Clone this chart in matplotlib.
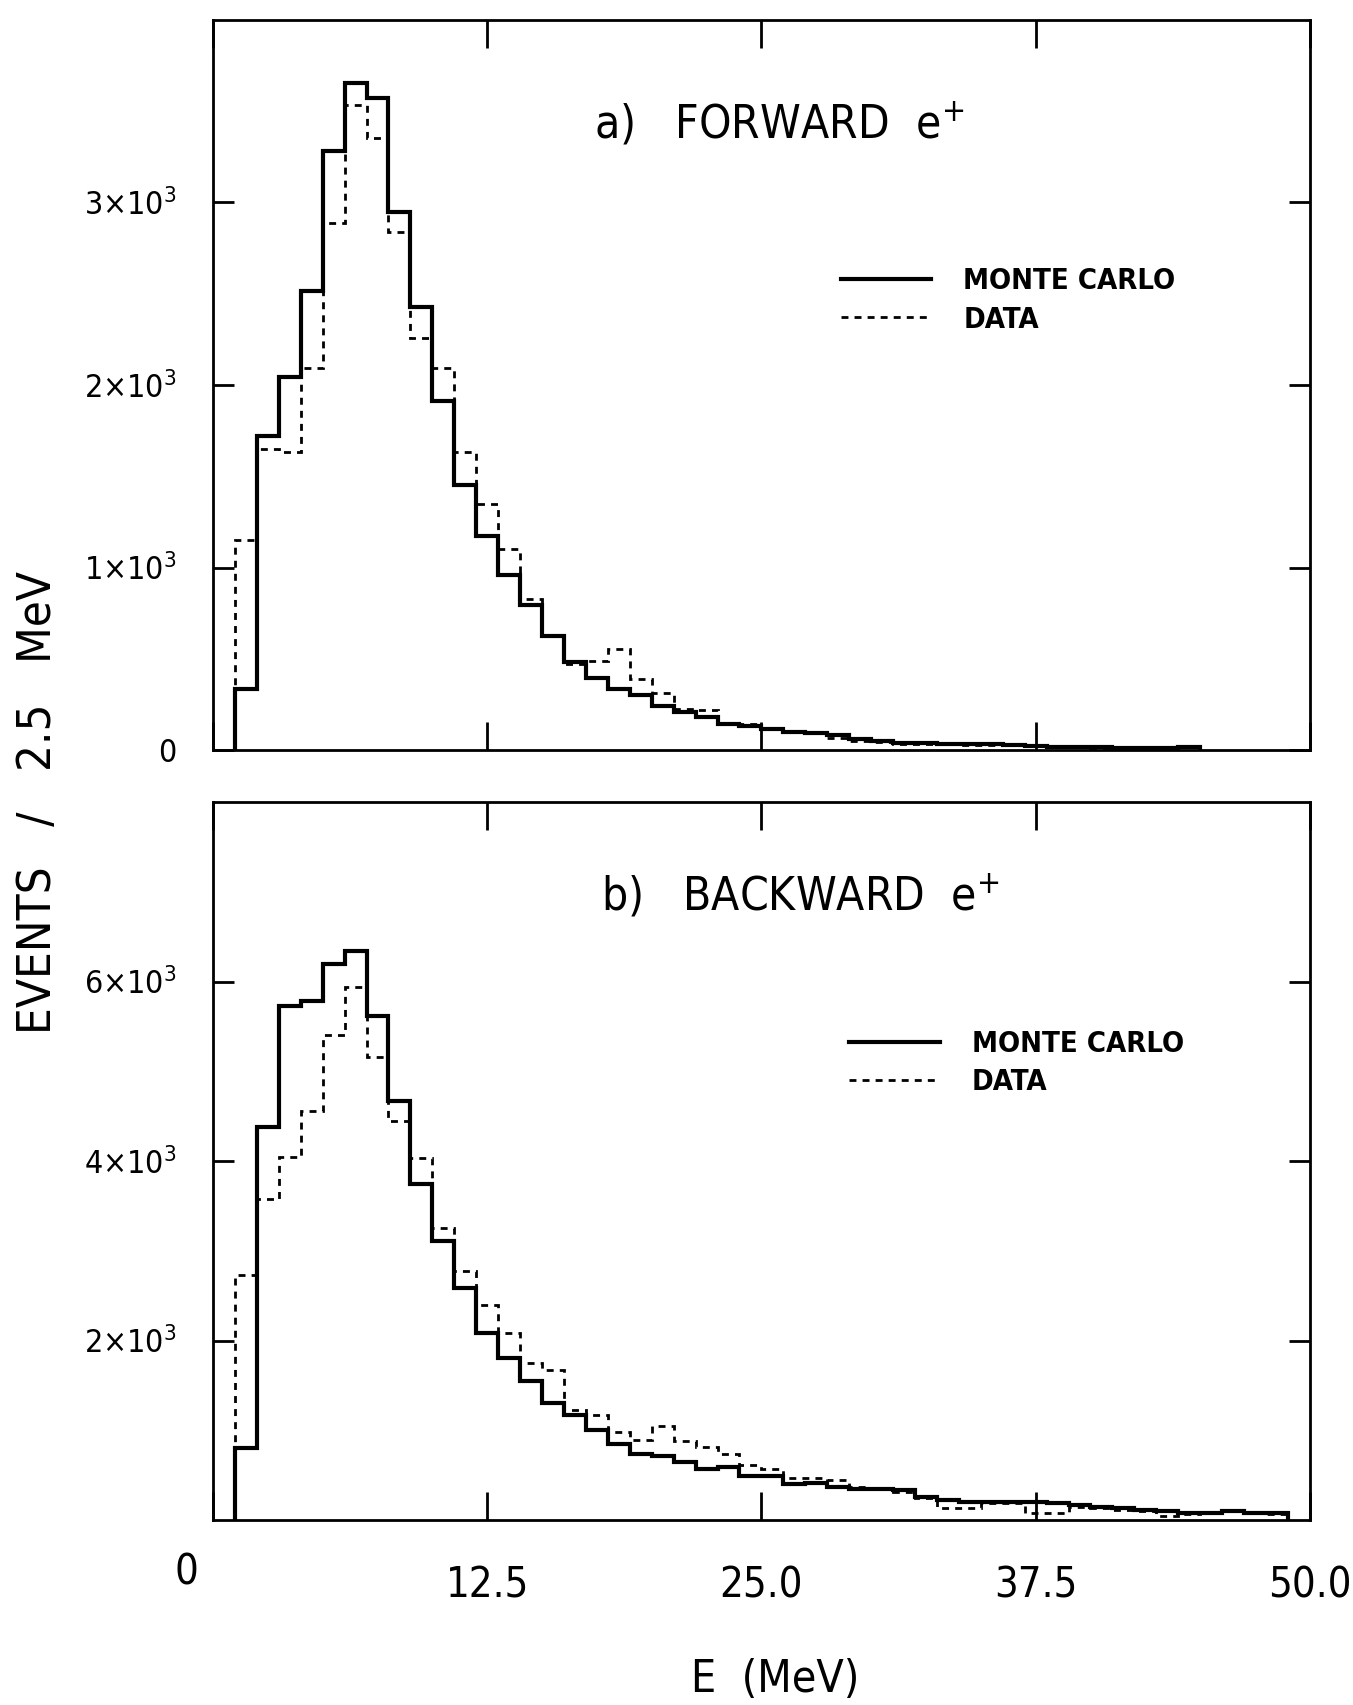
import numpy as np
import matplotlib
matplotlib.use("Agg")
import matplotlib.pyplot as plt
from matplotlib.lines import Line2D

plt.rcParams['font.family'] = ['DejaVu Sans']
plt.rcParams['font.stretch'] = 'condensed'

# energy bins, 1 MeV wide, starting at 1 MeV
edges_fwd = np.arange(1, 46)
edges_bwd = np.arange(1, 50)

# a) forward e+  (events per bin)
mc_fwd = [335, 1720, 2045, 2515, 3280, 3655, 3570, 2950, 2425, 1915,
          1450, 1170, 960, 792, 625, 482, 397, 333, 300, 241,
          208, 183, 144, 132, 113, 99, 91, 80, 60, 50,
          40, 37, 33, 33, 33, 30, 20, 18, 18, 15,
          12, 12, 12, 15]
data_fwd = [1150, 1650, 1635, 2095, 2885, 3535, 3355, 2840, 2255, 2095,
            1635, 1350, 1100, 828, 625, 470, 488, 556, 391, 314,
            223, 218, 150, 141, 122, 104, 95, 68, 50, 45,
            35, 35, 38, 30, 30, 28, 22, 18, 15, 12,
            12, 10, 12, 15]

# b) backward e+
mc_bwd = [800, 4380, 5725, 5784, 6191, 6338, 5618, 4672, 3740, 3113,
          2588, 2088, 1804, 1549, 1300, 1175, 1000, 849, 738, 712,
          646, 572, 590, 487, 487, 406, 417, 369, 350, 343,
          330, 260, 225, 205, 203, 203, 200, 185, 166, 150,
          130, 115, 103, 80, 80, 100, 75, 75]
data_bwd = [2735, 3578, 4044, 4559, 5407, 5936, 5162, 4451, 4034, 3250,
            2775, 2392, 2088, 1755, 1667, 1229, 1165, 985, 886, 1052,
            878, 812, 738, 616, 565, 472, 472, 443, 369, 345,
            310, 250, 130, 130, 190, 190, 80, 80, 150, 130,
            110, 95, 40, 70, 90, 110, 80, 70]

xticks = [0, 12.5, 25.0, 37.5, 50.0]
xticklabels = ['0', '12.5', '25.0', '37.5', '50.0']

fig = plt.figure(figsize=(13.53, 17.05), dpi=100)
ax1 = fig.add_axes([0.1574, 0.5601, 0.8107, 0.4282])
ax2 = fig.add_axes([0.1574, 0.1085, 0.8107, 0.4211])

solid = dict(color='black', linewidth=3.0, linestyle='-')
dashed = dict(color='black', linewidth=2.0, linestyle=(0, (2.5, 2.2)))

panels = [
    (ax1, edges_fwd, mc_fwd, data_fwd, 4000, [0, 1000, 2000, 3000],
     ['0', r'1$\times$10$^3$', r'2$\times$10$^3$', r'3$\times$10$^3$'],
     'a)   FORWARD  e$^{+}$', (0.347, 0.856), (0.559, 0.681)),
    (ax2, edges_bwd, mc_bwd, data_bwd, 8000, [2000, 4000, 6000],
     [r'2$\times$10$^3$', r'4$\times$10$^3$', r'6$\times$10$^3$'],
     'b)   BACKWARD  e$^{+}$', (0.354, 0.868), (0.567, 0.703)),
]

for ax, edges, mc, data, ymax, yt, ytl, title, tpos, lpos in panels:
    ax.stairs(data, edges, baseline=0, **dashed)
    ax.stairs(mc, edges, baseline=0, **solid)
    ax.set_xlim(0, 50)
    ax.set_ylim(0, ymax)
    ax.set_yticks(yt)
    ax.set_yticklabels(ytl)
    ax.set_xticks(xticks)
    for s in ax.spines.values():
        s.set_linewidth(2.0)
    ax.tick_params(axis='both', direction='in', width=2.0, top=True, right=True)
    ax.tick_params(axis='y', length=15, pad=26, labelsize=23)
    ax.tick_params(axis='x', length=20, pad=32, labelsize=30)
    ax.text(tpos[0], tpos[1], title, transform=ax.transAxes,
            fontsize=33, va='center', ha='left')
    handles = [Line2D([], [], **solid), Line2D([], [], **dashed)]
    ax.legend(handles, ['MONTE CARLO', 'DATA'], loc='upper left',
              bbox_to_anchor=lpos, frameon=False, borderpad=0,
              handlelength=3.1, handletextpad=1.1, labelspacing=0.35,
              prop={'size': 21, 'weight': 'bold'})

ax1.set_xticklabels([])
ax2.set_xticklabels(['', '12.5', '25.0', '37.5', '50.0'])
ax2.annotate(xticklabels[0], xy=(0, 0), xycoords=('data', 'axes fraction'),
             xytext=(-19, -23), textcoords='offset points',
             ha='center', va='top', fontsize=30)

fig.text(39 / 1353, 1 - 802 / 1705, 'EVENTS   /   2.5   MeV', rotation=90,
         ha='center', va='center', fontsize=34)
fig.text(775 / 1353, 1 - 1680 / 1705, 'E  (MeV)', ha='center', va='center',
         fontsize=32)

fig.savefig('out.png', dpi=100)
